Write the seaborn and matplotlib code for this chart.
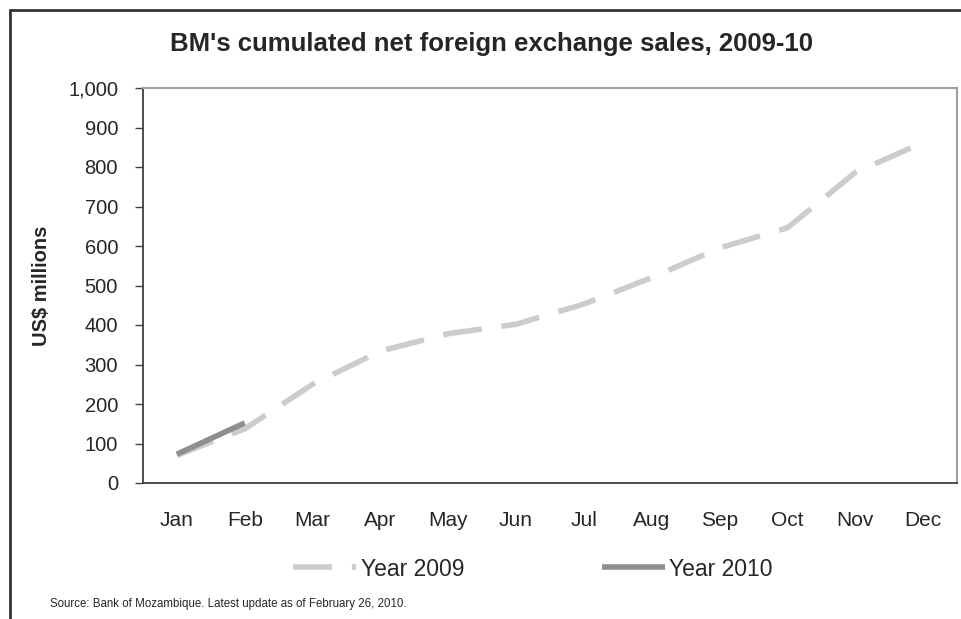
import matplotlib
matplotlib.use("Agg")
import matplotlib.pyplot as plt
from matplotlib.lines import Line2D
from matplotlib.ticker import FuncFormatter, FixedLocator
import seaborn as sns

months = ['Jan', 'Feb', 'Mar', 'Apr', 'May', 'Jun', 'Jul', 'Aug', 'Sep', 'Oct', 'Nov', 'Dec']
sales_2009 = [70, 137, 250, 334, 378, 402, 453, 520, 595, 646, 786, 862]
months_2010 = ['Jan', 'Feb']
sales_2010 = [73, 152]

sns.set_style('white')
plt.rcParams['font.family'] = ['Liberation Sans', 'DejaVu Sans']

fig = plt.figure(figsize=(9.61, 6.19), dpi=100)
ax = fig.add_axes([143/961, 1-483/619, (957-143)/961, (483-88)/619])

x09 = [months.index(m) for m in months]
x10 = [months.index(m) for m in months_2010]

sns.lineplot(x=x09, y=sales_2009, ax=ax, color='#cccccc', linewidth=4, label='Year 2009')
sns.lineplot(x=x10, y=sales_2010, ax=ax, color='#8e8e8e', linewidth=4, label='Year 2010')
l09 = ax.lines[0]
l09.set_dashes((7, 3.6))
l09.set_dash_capstyle('butt')
ax.lines[1].set_solid_capstyle('butt')
ax.get_legend().remove()

ax.set_xlim(-0.5, 11.5)
ax.set_ylim(0, 1000)
ax.set_yticks(range(0, 1001, 100))
ax.yaxis.set_major_formatter(FuncFormatter(lambda v, p: f'{int(v):,}'))
ax.set_xticks(range(12))
ax.set_xticklabels(months)
ax.xaxis.set_minor_locator(FixedLocator([i - 0.5 for i in range(13)]))
ax.tick_params(axis='x', which='major', length=0, labelsize=15, pad=20)
ax.tick_params(axis='x', which='minor', length=6, width=1, color='#404040', direction='out')
ax.tick_params(axis='y', length=6, width=1, color='#404040', direction='out', labelsize=14.5, pad=12)
ax.tick_params(left=True, bottom=True)

for s in ['left', 'bottom']:
    ax.spines[s].set_color('#404040')
    ax.spines[s].set_linewidth(1.3)
for s in ['top', 'right']:
    ax.spines[s].set_color('#a0a0a0')
    ax.spines[s].set_linewidth(1.5)

ax.set_ylabel('US$ millions', fontsize=14.5, fontweight='bold')
ax.yaxis.set_label_coords(-92/814, 0.5)
fig.text(491/961, 1-44/619, "BM's cumulated net foreign exchange sales, 2009-10",
         ha='center', va='center', fontsize=18.5, fontweight='bold')

fig.legend(handles=ax.lines[:2], labels=['Year 2009', 'Year 2010'], loc='center',
           bbox_to_anchor=(533/961, 1-569/619), ncol=2, frameon=False, fontsize=16.5,
           handlelength=2.75, handletextpad=0.2, columnspacing=6.0)

fig.text(50/961, 1-604/619, 'Source: Bank of Mozambique. Latest update as of February 26, 2010.',
         ha='left', va='center', fontsize=8.3, family=['Liberation Sans Narrow', 'Liberation Sans'])

# outer chart frame (cropped at right and bottom)
fig.add_artist(Line2D([10/961, 1], [1-10/619, 1-10/619], color='#333333', linewidth=2,
                      transform=fig.transFigure))
fig.add_artist(Line2D([10/961, 10/961], [0, 1-10/619], color='#333333', linewidth=2,
                      transform=fig.transFigure))

fig.savefig('out.png', dpi=100)
